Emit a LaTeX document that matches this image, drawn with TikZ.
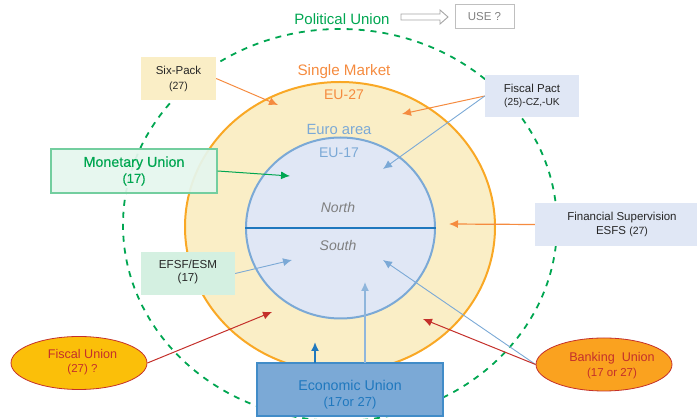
\documentclass[tikz,border=0pt]{standalone}
\usepackage{fontspec}
\setmainfont{Liberation Sans}
\newfontfamily\semib[FakeBold=0.4]{Liberation Sans}
\usetikzlibrary{arrows.meta,shapes.geometric}
\definecolor{cGreen}{HTML}{00A651}
\definecolor{cOrange}{HTML}{F58B3F}
\definecolor{cRing}{HTML}{F9A825}
\definecolor{cCream}{HTML}{FAEEC6}
\definecolor{cInner}{HTML}{E0E7F5}
\definecolor{cBlue}{HTML}{7BA9D6}
\definecolor{cDark}{HTML}{1F78BE}
\definecolor{cRed}{HTML}{C4302B}
\definecolor{cGrey}{HTML}{7F7F7F}
\definecolor{cText}{HTML}{262626}
\newcommand{\fs}[1]{\fontsize{#1}{#1}\selectfont}
\tikzset{
  x=1pt,y=-1pt,
  lbl/.style={inner sep=0pt,align=center},
  box/.style={rectangle,inner sep=0pt,minimum width=#1,align=center,text=cText},
  tip/.style={-{Latex[length=9pt,width=8pt]}},
  conn/.style={tip,line width=1pt},
  thin conn/.style={tip,line width=.9pt,color=cBlue},
  oval/.style={ellipse,inner sep=0pt,draw=cRed,line width=.8pt,text=cRed,align=center,minimum width=136pt,minimum height=53pt}
}
\begin{document}
\begin{tikzpicture}
\useasboundingbox (0,0) rectangle (697,419);
\begin{scope}
\clip (0,0) rectangle (697,419);
\node[draw=cGreen,dashed,dash pattern=on 6pt off 6pt,line width=1.8pt,ellipse,minimum width=434pt,minimum height=392pt,inner sep=0pt] (outer) at (340,225) {};
\end{scope}
\node[draw=cRing,fill=cCream,line width=2pt,ellipse,minimum width=310pt,minimum height=290pt,inner sep=0pt] (ring) at (340,227) {};
\node[draw=cBlue,fill=cInner,line width=2pt,ellipse,minimum width=189pt,minimum height=181pt,inner sep=0pt] (inner) at (340.5,228) {};
\draw[cDark,line width=1.8pt] (inner.west) -- (inner.east);

\node[lbl,text=cGreen,font=\fs{15}] (pol) at (342,19) {Political Union};
\node[lbl,text=cOrange,font=\fs{15.2}] (sm) at (344,72) {Single Market};
\node[lbl,text=cOrange,font=\fs{14}] (eu27) at (344,95) {EU-27};
\node[lbl,text=cBlue,font=\fs{14.8}] (euro) at (339,129) {Euro area};
\node[lbl,text=cBlue,font=\fs{14}] (eu17) at (339,153) {EU-17};
\node[lbl,text=cGrey,font=\fs{14}\itshape] (north) at (338,207) {North};
\node[lbl,text=cGrey,font=\fs{14}\itshape] (south) at (338,245) {South};

\node[draw=black!25,line width=1pt,minimum width=59pt,minimum height=24pt,inner sep=0pt,text=cGrey,font=\fs{11.5}] (use) at (484.5,17) {USE ?};
\draw[draw=black!35,line width=.9pt,fill=white] (401,14) -- (440,14) -- (440,10) -- (448,17) -- (440,24) -- (440,20) -- (401,20) -- cycle;

\node[box=75pt,minimum height=43pt,fill=cCream,font=\fs{11.5}] (six) at (178.5,78.5) {Six-Pack\\[3.5pt]{\fs{10.5}(27)}};
\node[box=94pt,minimum height=42pt,fill=cInner,font=\fs{11.5}] (pact) at (532,96) {Fiscal Pact\\[1.5pt]{\fs{10.2}(25)-CZ,-UK}};
\node[box=166pt,minimum height=44pt,fill=cGreen!10,fill opacity=.93,text opacity=1,draw=cGreen!55,line width=1.2pt,text=cGreen,font=\fs{14.3}\semib] (mon) at (134,171) {Monetary Union\\[1.7pt]{\fs{13}(17)}};
\node[box=94pt,minimum height=43pt,fill=cGreen!17!white,font=\fs{11.6}] (efsf) at (188,273.5) {EFSF/ESM\\[1.5pt](17)\rule[-6pt]{0pt}{1pt}};
\node[box=162pt,minimum height=43pt,fill=cInner,font=\fs{11.5}] (fin) at (616,224.5) {\hspace*{12pt}Financial Supervision\\[2.5pt]\hspace*{12pt}ESFS {\fs{10.5}(27)}};
\node[box=186pt,minimum height=53pt,fill=cBlue,draw=cDark!85,line width=1.4pt,text=cDark,font=\fs{14.2}] (econ) at (350,389.5) {\rule{0pt}{20pt}Economic Union\\[2pt]{\fs{13}(17or 27)}};
\node[oval,fill=yellow!60!orange!95!red] (fu) at (79,363) {};
\node[oval,fill=cRing!85!orange] (bu) at (604,364.5) {};
\node[lbl,text=cRed,font=\fs{12.6}] (fut) at (82.5,362) {Fiscal Union\\[2pt]{\fs{11.5}(27) ?}};
\node[lbl,text=cRed,font=\fs{12.6}] (but) at (612,365.5) {Banking\ \ Union\\[2pt]{\fs{11.5}(17 or 27)}};

\coordinate (t1) at (278,105);
\coordinate (t2) at (402,114);
\coordinate (t3) at (383,169);
\coordinate (t4) at (290,176);
\coordinate (t5) at (292,260);
\coordinate (t6) at (449,224);
\coordinate (t7) at (315,342);
\coordinate (t8) at (365,282);
\coordinate (t9) at (272,312);
\coordinate (t10) at (423,319);
\coordinate (t11) at (383,260);
\coordinate (s7) at (315,363);
\coordinate (s8) at (365,363);

\draw[conn,cOrange] (six.east) -- (t1);
\draw[conn,cOrange] (pact.west) -- (t2);
\draw[thin conn] (pact.west) -- (t3);
\draw[conn,cGreen] (mon.east) -- (t4);
\draw[thin conn] (efsf.east) -- (t5);
\draw[conn,cOrange,line width=1.2pt] (fin.west) -- (t6);
\draw[conn,cDark,line width=1.6pt] (s7) -- (t7);
\draw[thin conn,line width=1.3pt,cBlue!85] (s8) -- (t8);
\draw[conn,cRed] (fu.east) -- (t9);
\draw[thin conn] (bu.west) -- (t11);
\draw[conn,cRed] (bu.west) -- (t10);
\end{tikzpicture}
\end{document}
